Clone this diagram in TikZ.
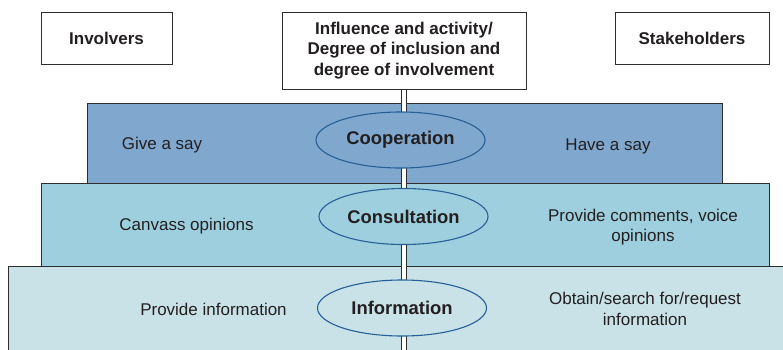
\documentclass[tikz,border=0pt]{standalone}
\usepackage{fontspec}
\setmainfont{Liberation Sans}
\usetikzlibrary{shapes.geometric}
\definecolor{coop}{RGB}{128,168,206}
\definecolor{cons}{RGB}{158,207,222}
\definecolor{info}{RGB}{200,226,232}
\definecolor{edgec}{RGB}{45,45,45}
\definecolor{ellb}{RGB}{40,95,150}
\definecolor{txt}{RGB}{35,31,32}
\tikzset{
  topbox/.style={draw=edgec, line width=0.9bp, fill=white, text=txt,
    font=\fontsize{17bp}{20.5bp}\selectfont\bfseries, align=center, inner sep=0pt},
  bandrect/.style={draw=edgec, line width=0.8bp},
  levelell/.style={ellipse, draw=ellb, line width=1.1bp, text=txt, inner sep=0pt,
    minimum width=169bp, minimum height=56bp, font=\fontsize{18.4bp}{22bp}\selectfont\bfseries},
  bandtext/.style={text=txt, align=center, inner sep=0pt,
    font=\fontsize{17bp}{20.5bp}\selectfont},
  gapline/.style={draw=edgec, line width=0.8bp}
}
\begin{document}
\begin{tikzpicture}[x=1bp,y=-1bp]
\useasboundingbox (0,0) rectangle (783,349);
\clip (0,0) rectangle (783,349);
\fill[white] (0,0) rectangle (783,349);

% top boxes
\node[topbox, minimum width=131bp, minimum height=52bp] (involvers) at (106.5,38) {Involvers};
\node[topbox, minimum width=244bp, minimum height=77bp] (influence) at (404,50.5)
  {Influence and activity/\\Degree of inclusion and\\degree of involvement};
\node[topbox, minimum width=154bp, minimum height=52bp] (stake) at (692,38) {Stakeholders};

% gap connector lines between middle box and top band
\coordinate (gl) at (401,103);
\coordinate (gr) at (406,103);
\draw[gapline] (influence.south -| gl) -- (gl);
\draw[gapline] (influence.south -| gr) -- (gr);

% bands
\draw[bandrect, fill=coop] (87,103) rectangle (401,183);
\draw[bandrect, fill=coop] (406,103) rectangle (722,183);
\draw[bandrect, fill=cons] (41,183) rectangle (401,266);
\draw[bandrect, fill=cons] (406,183) rectangle (769,266);
\draw[bandrect, fill=info] (8,266) rectangle (401,370);
\draw[bandrect, fill=info] (406,266) rectangle (800,370);

% ellipses
\node[levelell, fill=coop] (cooperation) at (400.5,140) {Cooperation};
\node[levelell, fill=cons] (consultation) at (403.5,216.5) {Consultation};
\node[levelell, fill=info] (information) at (402,308) {Information};

% band texts
\node[bandtext] (give) at (162,145) {Give a say};
\node[bandtext] (have) at (608,146) {Have a say};
\node[bandtext] (canvass) at (186.5,226) {Canvass opinions};
\node[bandtext] (comments) at (643,227) {Provide comments, voice\\opinions};
\node[bandtext] (provide) at (213.5,309) {Provide information};
\node[bandtext] (obtain) at (645,309) {Obtain/search for/request\\information};
\end{tikzpicture}
\end{document}
